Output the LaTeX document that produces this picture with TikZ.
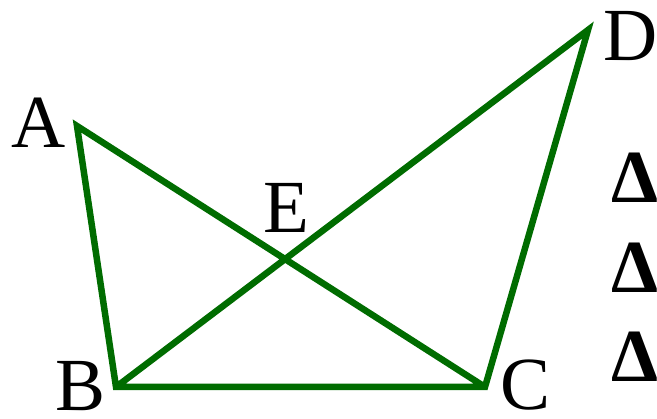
\documentclass[tikz,border=0pt]{standalone}
\usepackage{fontspec}
\setmainfont{Liberation Serif}
\definecolor{figgreen}{RGB}{0,108,0}
\tikzset{
  side/.style={figgreen, line width=6.5pt},
  vlabel/.style={anchor=base, inner sep=0pt, text depth=0pt, font=\fontsize{75}{80}\selectfont},
  tri/.style={anchor=base west, inner sep=0pt, text depth=0pt, font=\fontsize{75}{80}\selectfont\bfseries}
}
\begin{document}
\begin{tikzpicture}[x=1pt, y=-1pt]
        \useasboundingbox (0,0) rectangle (657,419);
        \clip (0,0) rectangle (657,419);

        % Corner points of the figure
        \coordinate (A) at (77,126);
        \coordinate (B) at (116,387);
        \coordinate (C) at (485,387);
        \coordinate (D) at (588,30);

        % Sides and the two crossing diagonals
        \draw[side] (C) -- (A) -- (B) -- (C) -- (D) -- (B);
        \coordinate (E) at (intersection of A--C and B--D);

        % Letters at the corners
        \node[vlabel] (labA) at (39,148) {A};
        \node[vlabel] (labB) at (81,411) {B};
        \node[vlabel] (labC) at (526,410) {C};
        \node[vlabel] (labD) at (631,61) {D};
        \node[vlabel] (labE) at (286,233) {E};

        % Triangle statements on the right (cut off by the page edge)
        \node[tri] (triA) at (611,203) {Δ};
        \node[tri] (triB) at (611,293) {Δ};
        \node[tri] (triC) at (611,382) {Δ};
\end{tikzpicture}
\end{document}
